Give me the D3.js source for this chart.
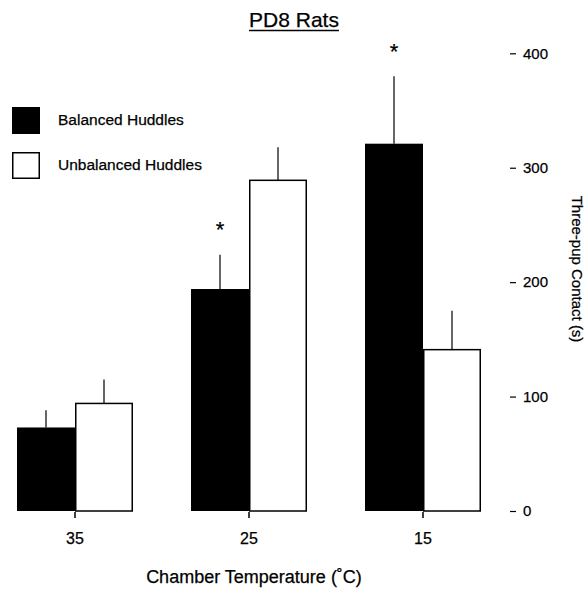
<!DOCTYPE html>
<html>
<head>
<meta charset="utf-8">
<script src="https://cdn.jsdelivr.net/npm/d3@7"></script>
<style>
  html, body { margin: 0; padding: 0; background: #fff; }
  text { font-family: "Liberation Sans", Arial, Helvetica, sans-serif; fill: #000; stroke: #000; stroke-width: 0.25px; }
</style>
</head>
<body>
<svg id="chart" width="587" height="589"></svg>
<script>
// ---- data ----
const categories = ["35", "25", "15"];
const seriesNames = ["Balanced Huddles", "Unbalanced Huddles"];
const balancedMeans = [73, 194, 321];
const balancedErrTop = [88, 224, 380];
const unbalancedMeans = [94, 289, 141];
const unbalancedErrTop = [115, 318, 175];
const significant = [false, true, true]; // asterisk over balanced bar
const yTicks = [0, 100, 200, 300, 400];
const titleText = "PD8 Rats";
const xTitle = "Chamber Temperature (\u02DAC)";
const yTitle = "Three-pup Contact (s)";

const rows = categories.map((c, i) => ({
  cat: c,
  bars: [
    { s: 0, v: balancedMeans[i], e: balancedErrTop[i] },
    { s: 1, v: unbalancedMeans[i], e: unbalancedErrTop[i] }
  ],
  sig: significant[i]
}));

const svg = d3.select("#chart");

const x = d3.scaleBand().domain(categories).range([17, 481]).paddingInner(1/3).paddingOuter(0);
const xs = d3.scaleBand().domain([0, 1]).range([0, x.bandwidth()]);
const y = d3.scaleLinear().domain([0, 400]).range([511, 53.3]);

// bars
const g = svg.selectAll("g.grp").data(rows).join("g")
  .attr("class", "grp")
  .attr("transform", d => `translate(${x(d.cat)},0)`);

// error bars (vertical line up from bar top)
g.selectAll("line.err").data(d => d.bars).join("line")
  .attr("class", "err")
  .attr("x1", d => xs(d.s) + xs.bandwidth() / 2)
  .attr("x2", d => xs(d.s) + xs.bandwidth() / 2)
  .attr("y1", d => y(d.v))
  .attr("y2", d => y(d.e))
  .attr("stroke", "#000")
  .attr("stroke-width", 1.2);

g.selectAll("rect").data(d => d.bars).join("rect")
  .attr("x", d => xs(d.s) + (d.s === 1 ? 0.75 : 0))
  .attr("width", d => xs.bandwidth() - (d.s === 1 ? 1.5 : 0))
  .attr("y", d => y(d.v))
  .attr("height", d => y(0) - y(d.v))
  .attr("fill", d => d.s === 0 ? "#000" : "#fff")
  .attr("stroke", "#000")
  .attr("stroke-width", d => d.s === 0 ? 0 : 1.5);

// asterisks
g.filter(d => d.sig).append("text")
  .attr("x", xs(0) + xs.bandwidth() / 2)
  .attr("y", d => y(d.bars[0].e) - 17.5)
  .attr("text-anchor", "middle")
  .attr("font-size", 22)
  .text("*");

// x axis: ticks only
const xAxis = d3.axisBottom(x).tickSize(6).tickPadding(15);
const gx = svg.append("g").attr("transform", `translate(0,${y(0) + 1})`).call(xAxis);
gx.select(".domain").remove();
gx.selectAll(".tick line").attr("stroke", "#000").attr("stroke-width", 1.5);
gx.selectAll(".tick text").attr("font-size", 16);

// y axis on right: dash ticks, no domain
const yAxis = d3.axisRight(y).tickValues(yTicks).tickSize(6).tickPadding(7);
const gy = svg.append("g").attr("transform", "translate(510,0)").call(yAxis);
gy.select(".domain").remove();
gy.selectAll(".tick line").attr("stroke", "#000").attr("stroke-width", 1.2);
gy.selectAll(".tick text").attr("font-size", 15);

// title with underline
const t = svg.append("text")
  .attr("x", 294).attr("y", 27)
  .attr("text-anchor", "middle")
  .attr("font-size", 21)
  .text(titleText);
const tb = t.node().getBBox();
svg.append("line")
  .attr("x1", tb.x).attr("x2", tb.x + tb.width)
  .attr("y1", 30.5).attr("y2", 30.5)
  .attr("stroke", "#000").attr("stroke-width", 1.3);

// x title
svg.append("text")
  .attr("x", 254).attr("y", 583)
  .attr("text-anchor", "middle")
  .attr("font-size", 18)
  .text(xTitle);

// y title (rotated clockwise)
svg.append("text")
  .attr("transform", "translate(572,269) rotate(90)")
  .attr("text-anchor", "middle")
  .attr("font-size", 15)
  .text(yTitle);

// legend
const color = d3.scaleOrdinal().domain(seriesNames).range(["#000", "#fff"]);
const lg = svg.selectAll("g.leg").data(seriesNames).join("g")
  .attr("class", "leg")
  .attr("transform", (d, i) => `translate(12,${107 + i * 45})`);
lg.append("rect")
  .attr("x", (d, i) => i ? 0.75 : 0).attr("y", (d, i) => i ? 0.75 : 0)
  .attr("width", (d, i) => i ? 26.5 : 28).attr("height", (d, i) => i ? 25.5 : 27)
  .attr("fill", d => color(d))
  .attr("stroke", "#000").attr("stroke-width", (d, i) => i ? 1.5 : 0);
lg.append("text")
  .attr("x", 46).attr("y", 17.5)
  .attr("font-size", 15.5)
  .text(d => d);
</script>
</body>
</html>
